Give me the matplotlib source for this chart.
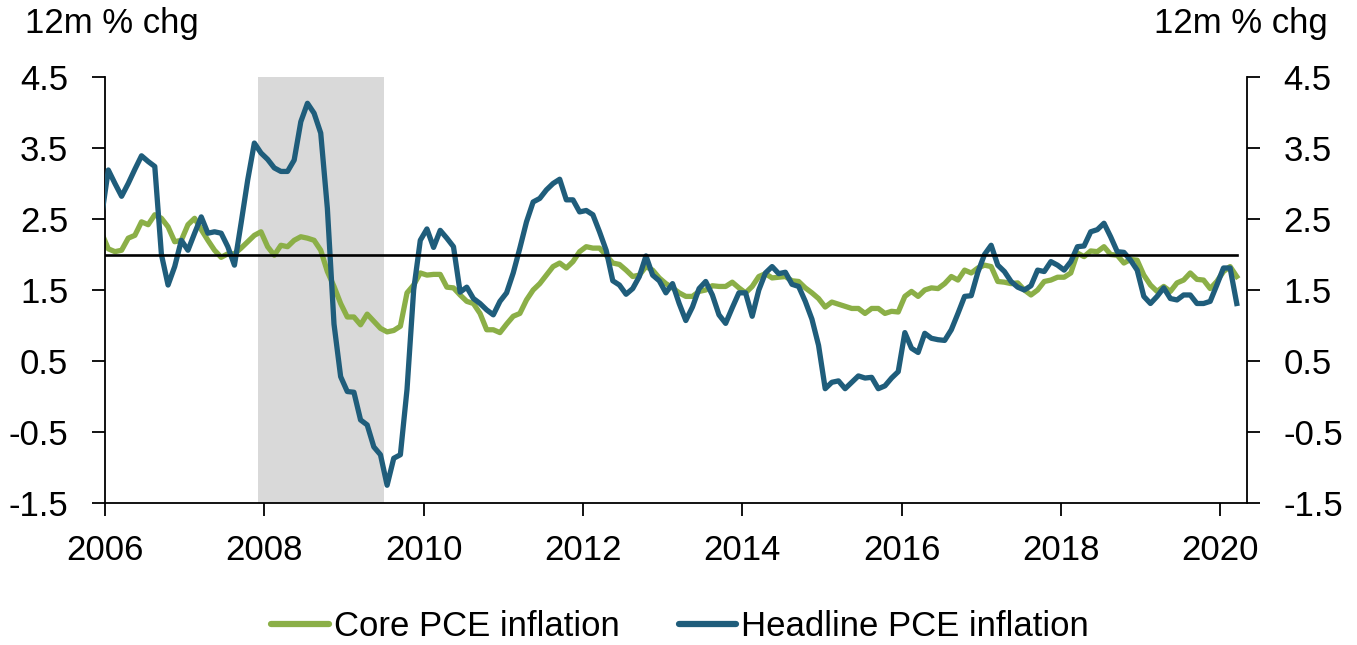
import numpy as np
import matplotlib
matplotlib.use("Agg")
import matplotlib.pyplot as plt

# monthly 12m % change, Dec 2005 .. Mar 2020
first_month = (2005, 12)

core_pce = [
    2.30,
    2.08, 2.04, 2.06, 2.23, 2.27, 2.46, 2.42, 2.56, 2.51, 2.39, 2.18, 2.20,  # 2006
    2.42, 2.51, 2.35, 2.20, 2.06, 1.96, 2.01, 2.01, 2.09, 2.18, 2.27, 2.32,  # 2007
    2.11, 1.99, 2.13, 2.11, 2.20, 2.25, 2.23, 2.20, 2.06, 1.76, 1.55, 1.31,  # 2008
    1.12, 1.12, 1.01, 1.16, 1.06, 0.96, 0.91, 0.93, 0.99, 1.46, 1.57, 1.74,  # 2009
    1.71, 1.72, 1.72, 1.54, 1.53, 1.43, 1.34, 1.31, 1.17, 0.94, 0.94, 0.90,  # 2010
    1.02, 1.13, 1.17, 1.36, 1.50, 1.59, 1.71, 1.83, 1.88, 1.81, 1.90, 2.04,  # 2011
    2.11, 2.09, 2.09, 1.99, 1.88, 1.86, 1.78, 1.69, 1.71, 1.83, 1.78, 1.67,  # 2012
    1.59, 1.53, 1.46, 1.41, 1.41, 1.48, 1.50, 1.56, 1.55, 1.55, 1.61, 1.53,  # 2013
    1.46, 1.55, 1.69, 1.73, 1.67, 1.68, 1.69, 1.63, 1.62, 1.53, 1.46, 1.38,  # 2014
    1.26, 1.33, 1.30, 1.27, 1.24, 1.24, 1.17, 1.24, 1.24, 1.17, 1.20, 1.19,  # 2015
    1.41, 1.48, 1.41, 1.50, 1.53, 1.52, 1.59, 1.69, 1.64, 1.78, 1.74, 1.81,  # 2016
    1.85, 1.83, 1.62, 1.61, 1.59, 1.60, 1.50, 1.43, 1.50, 1.62, 1.64, 1.68,  # 2017
    1.68, 1.74, 2.02, 1.97, 2.05, 2.04, 2.11, 2.00, 1.99, 1.88, 1.93, 1.92,  # 2018
    1.71, 1.57, 1.48, 1.55, 1.48, 1.60, 1.64, 1.74, 1.65, 1.64, 1.52, 1.62,  # 2019
    1.76, 1.83, 1.69,                                                        # 2020
]

headline_pce = [
    2.55,
    3.19, 3.00, 2.82, 3.00, 3.20, 3.39, 3.31, 3.24, 2.00, 1.57, 1.83, 2.20,  # 2006
    2.06, 2.30, 2.53, 2.30, 2.32, 2.30, 2.11, 1.85, 2.44, 3.05, 3.57, 3.43,  # 2007
    3.34, 3.22, 3.17, 3.17, 3.33, 3.87, 4.13, 3.99, 3.71, 2.65, 1.02, 0.28,  # 2008
    0.07, 0.06, -0.33, -0.40, -0.71, -0.82, -1.25, -0.87, -0.82, 0.10, 1.50, 2.20,  # 2009
    2.36, 2.10, 2.34, 2.23, 2.11, 1.47, 1.54, 1.38, 1.31, 1.22, 1.15, 1.34,  # 2010
    1.46, 1.74, 2.09, 2.46, 2.74, 2.79, 2.91, 3.00, 3.06, 2.77, 2.77, 2.60,  # 2011
    2.62, 2.56, 2.32, 2.06, 1.63, 1.57, 1.44, 1.52, 1.69, 1.98, 1.71, 1.63,  # 2012
    1.46, 1.59, 1.31, 1.07, 1.26, 1.52, 1.62, 1.43, 1.15, 1.03, 1.25, 1.46,  # 2013
    1.46, 1.13, 1.50, 1.74, 1.83, 1.73, 1.75, 1.58, 1.55, 1.34, 1.09, 0.72,  # 2014
    0.11, 0.20, 0.22, 0.11, 0.20, 0.29, 0.26, 0.27, 0.11, 0.15, 0.26, 0.35,  # 2015
    0.90, 0.68, 0.62, 0.89, 0.82, 0.80, 0.79, 0.94, 1.17, 1.41, 1.42, 1.75,  # 2016
    2.00, 2.13, 1.85, 1.76, 1.62, 1.54, 1.50, 1.56, 1.78, 1.76, 1.90, 1.85,  # 2017
    1.78, 1.90, 2.11, 2.12, 2.32, 2.35, 2.44, 2.25, 2.04, 2.03, 1.92, 1.78,  # 2018
    1.41, 1.31, 1.41, 1.53, 1.38, 1.36, 1.43, 1.43, 1.31, 1.31, 1.34, 1.57,  # 2019
    1.81, 1.81, 1.31,                                                        # 2020
]

fed_target = 2.0
recession = (2007 + 11 / 12, 2009.5)   # Dec 2007 - Jun 2009
year_ticks = list(range(2006, 2021, 2))
y_ticks = [-1.5, -0.5, 0.5, 1.5, 2.5, 3.5, 4.5]

CORE_COL = "#8BAF47"
HEAD_COL = "#1F5D7B"
FS = 25

plt.rcParams["font.family"] = ["Liberation Sans", "DejaVu Sans"]
plt.rcParams["axes.unicode_minus"] = False

# month positions plotted mid-month
n = len(core_pce)
m0 = first_month[0] + (first_month[1] - 1) / 12
x = m0 + (np.arange(n) + 0.5) / 12
target = np.full(n, fed_target)

fig = plt.figure(figsize=(13.57, 6.45), dpi=100)
ax = fig.add_axes([105 / 1357, 1 - 503 / 645, (1246.7 - 105) / 1357, (503 - 77) / 645])

ax.axvspan(recession[0], recession[1], color="#D9D9D9", lw=0, zorder=0)
ax.plot(x, core_pce, color=CORE_COL, lw=3.8, label="Core PCE inflation",
        solid_joinstyle="round", zorder=2)
ax.plot(x, headline_pce, color=HEAD_COL, lw=3.8, label="Headline PCE inflation",
        solid_joinstyle="round", zorder=3)
ax.plot(x, target, color="black", lw=1.9, zorder=4)

ax.set_xlim(2006, 2020 + 4 / 12)
ax.set_ylim(-1.5, 4.5)
ax.set_xticks(year_ticks)
ax.set_xticklabels([str(t) for t in year_ticks])
ax.set_yticks(y_ticks)
ax.set_yticklabels([f"{t:.1f}" for t in y_ticks])

for s in ["left", "right", "bottom"]:
    ax.spines[s].set_color("black")
    ax.spines[s].set_linewidth(1.3)
ax.spines["top"].set_visible(False)

ax.tick_params(axis="x", direction="out", length=9.5, width=1.3, pad=13, labelsize=FS)
ax.tick_params(axis="y", direction="out", length=9.5, width=1.3, pad=17, labelsize=FS,
               left=True, right=True, labelleft=True, labelright=True)

fig.text(25 / 1357, 1 - 7 / 645, "12m % chg", fontsize=FS, ha="left", va="top")
fig.text(1328 / 1357, 1 - 7 / 645, "12m % chg", fontsize=FS, ha="right", va="top")

leg = fig.legend(loc="center", bbox_to_anchor=(680 / 1357, 1 - 627 / 645), ncol=2,
                 frameon=False, fontsize=FS, handlelength=1.65, handletextpad=0.15,
                 columnspacing=1.7, borderaxespad=0, borderpad=0)
for h in leg.get_lines():
    h.set_linewidth(4.5)
    h.set_solid_capstyle("round")

fig.savefig("out.png", dpi=100)
